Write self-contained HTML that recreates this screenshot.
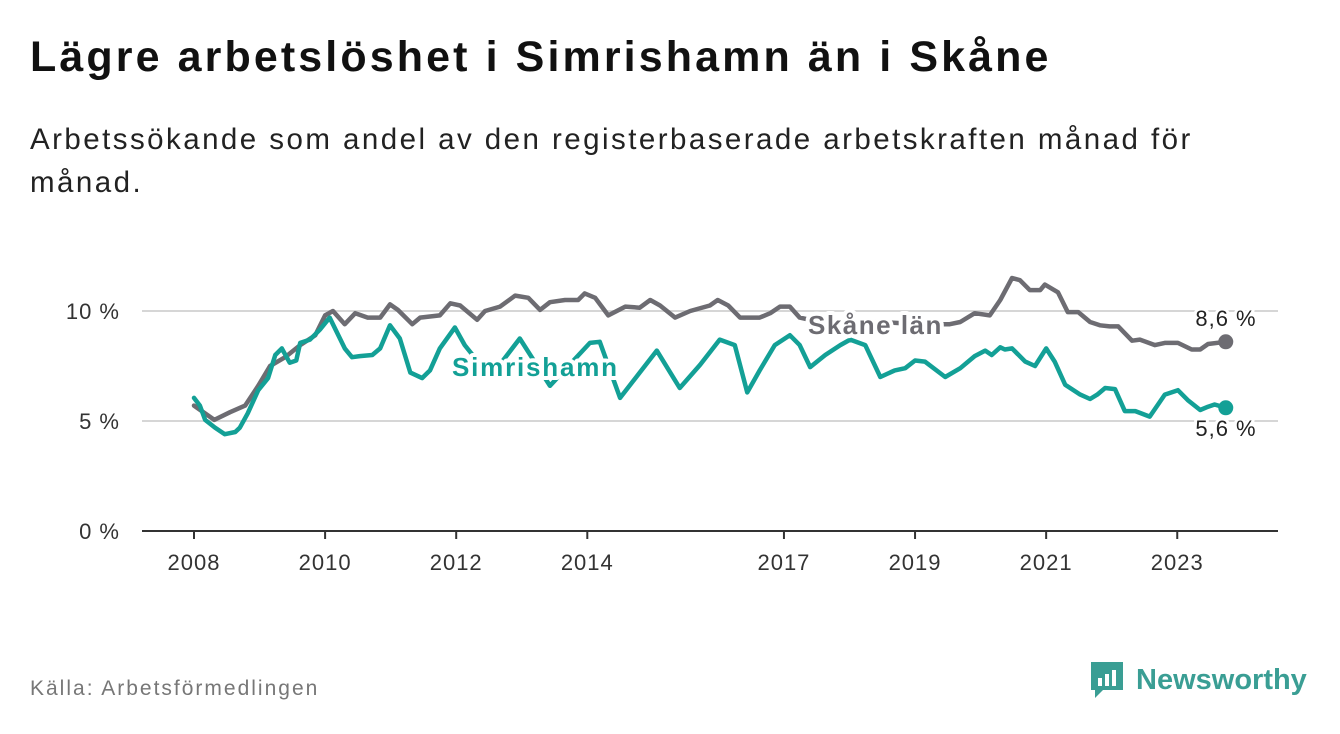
<!DOCTYPE html>
<html><head><meta charset="utf-8"><style>
body{margin:0;background:#fff;font-family:"Liberation Sans","DejaVu Sans",sans-serif;}
#wrap{position:relative;width:1340px;height:734px;overflow:hidden}
h1{position:absolute;left:30px;top:33px;margin:0;font-size:43px;font-weight:bold;color:#111;letter-spacing:3.1px}
.sub{position:absolute;left:30px;top:118px;width:1200px;font-size:29.5px;line-height:43px;color:#222;letter-spacing:2.45px}
.src{position:absolute;left:30px;top:677px;font-size:21px;color:#777;letter-spacing:2px}
</style></head><body>
<div id="wrap">
<h1>Lägre arbetslöshet i Simrishamn än i Skåne</h1>
<div class="sub">Arbetssökande som andel av den registerbaserade arbetskraften månad för månad.</div>
<svg id="chart" width="1340" height="734" style="position:absolute;left:0;top:0"></svg>
<div class="src">Källa: Arbetsförmedlingen</div>
<div style="position:absolute;left:1089px;top:660px;height:40px;display:flex;align-items:center">
<svg width="36" height="40"><path d="M2 2h32v28H14l-8 8v-8H2z" fill="#3a9e94"/><rect x="9" y="18" width="4" height="8" fill="#fff"/><rect x="16" y="14" width="4" height="12" fill="#fff"/><rect x="23" y="10" width="4" height="16" fill="#fff"/></svg>
<span style="font-size:29px;font-weight:bold;color:#3a9e94;margin-left:11px">Newsworthy</span></div>
</div>
<script>
const yTicks=[0,5,10];
const xTicks=[2008,2010,2012,2014,2017,2019,2021,2023];
const skaneDates=[2008.00,2008.31,2008.55,2008.78,2008.98,2009.16,2009.39,2009.62,2009.85,2010.00,2010.12,2010.30,2010.46,2010.65,2010.84,2010.99,2011.11,2011.33,2011.45,2011.75,2011.91,2012.06,2012.32,2012.44,2012.67,2012.90,2013.10,2013.28,2013.43,2013.66,2013.86,2013.96,2014.12,2014.32,2014.58,2014.80,2014.96,2015.11,2015.34,2015.57,2015.87,2015.99,2016.15,2016.33,2016.63,2016.79,2016.94,2017.09,2017.24,2017.70,2018.47,2019.08,2019.53,2019.69,2019.91,2020.14,2020.30,2020.48,2020.60,2020.75,2020.91,2020.98,2021.18,2021.33,2021.49,2021.67,2021.82,2021.97,2022.10,2022.31,2022.43,2022.66,2022.81,2023.01,2023.22,2023.35,2023.47,2023.74];
const skaneValues=[5.7,5.05,5.4,5.7,6.6,7.5,7.9,8.45,8.9,9.8,10.0,9.4,9.9,9.7,9.7,10.3,10.05,9.4,9.7,9.8,10.35,10.25,9.6,10.0,10.2,10.7,10.6,10.05,10.4,10.5,10.5,10.8,10.6,9.8,10.2,10.15,10.5,10.25,9.7,10.0,10.25,10.5,10.25,9.7,9.7,9.9,10.2,10.2,9.7,9.4,9.5,9.4,9.4,9.5,9.9,9.8,10.5,11.5,11.4,10.95,10.95,11.2,10.85,9.95,9.95,9.5,9.35,9.3,9.3,8.65,8.7,8.45,8.55,8.55,8.25,8.25,8.5,8.6];
const simDates=[2008.00,2008.09,2008.17,2008.32,2008.47,2008.63,2008.70,2008.82,2008.98,2009.13,2009.24,2009.34,2009.46,2009.56,2009.62,2009.77,2009.92,2010.07,2010.30,2010.41,2010.53,2010.72,2010.84,2010.99,2011.14,2011.30,2011.48,2011.60,2011.75,2011.98,2012.13,2012.52,2012.97,2013.43,2014.04,2014.19,2014.50,2015.06,2015.41,2015.72,2016.02,2016.25,2016.44,2016.63,2016.86,2017.09,2017.24,2017.40,2017.63,2017.86,2018.01,2018.24,2018.47,2018.69,2018.85,2019.00,2019.15,2019.46,2019.69,2019.91,2020.07,2020.17,2020.30,2020.37,2020.48,2020.68,2020.83,2021.00,2021.13,2021.29,2021.52,2021.67,2021.78,2021.90,2022.05,2022.20,2022.36,2022.58,2022.81,2023.01,2023.16,2023.35,2023.47,2023.57,2023.74];
const simValues=[6.05,5.7,5.05,4.7,4.4,4.5,4.7,5.35,6.4,6.95,8.0,8.3,7.65,7.75,8.55,8.7,9.15,9.7,8.3,7.9,7.95,8.0,8.3,9.35,8.75,7.2,6.95,7.3,8.3,9.25,8.45,7.0,8.75,6.6,8.55,8.6,6.05,8.2,6.5,7.55,8.7,8.45,6.3,7.3,8.45,8.9,8.45,7.45,8.0,8.45,8.7,8.45,7.0,7.3,7.4,7.75,7.7,7.0,7.4,7.95,8.2,8.0,8.35,8.25,8.3,7.7,7.5,8.3,7.7,6.65,6.2,6.0,6.2,6.5,6.45,5.45,5.45,5.2,6.2,6.4,5.95,5.5,5.65,5.75,5.6];

const NS="http://www.w3.org/2000/svg",svg=document.getElementById('chart');
const X=t=>194+(t-2008)*65.55, Y=v=>531-v*22;
function mk(tag,at,txt){const e=document.createElementNS(NS,tag);for(const k in at)e.setAttribute(k,at[k]);if(txt!=null)e.textContent=txt;svg.appendChild(e);return e;}
yTicks.forEach(v=>{
 const g=mk('line',{x1:142,x2:1278,y1:Y(v),y2:Y(v),stroke:v===0?'#333':'#d6d6d6','stroke-width':2});
 
 
 const t=mk('text',{x:120,y:Y(v)+8,'text-anchor':'end','font-size':22,fill:'#333','letter-spacing':1},v+' %');
 
 
});
xTicks.forEach(yr=>{
 const l=mk('line',{x1:X(yr),x2:X(yr),y1:531,y2:539,stroke:'#333','stroke-width':2});
 
 
 const t=mk('text',{x:X(yr),y:570,'text-anchor':'middle','font-size':22,fill:'#333','letter-spacing':1},String(yr));
 
 
});
function line(d,v,c,name){
 const p=mk('polyline',{points:d.map((t,i)=>X(t)+','+Y(v[i])).join(' '),fill:'none',stroke:c,'stroke-width':4.5,'stroke-linejoin':'round','stroke-linecap':'round'});
 
 
 const e=mk('circle',{cx:X(d[d.length-1]),cy:Y(v[v.length-1]),r:7.5,fill:c});
 
 
}
line(skaneDates,skaneValues,'#6d6c72','skane-line');
line(simDates,simValues,'#13a096','simrishamn-line');
function lab(x,y,txt,c,name,bold,size,anchor,ls){
 const t=mk('text',{x:x,y:y,fill:c,'font-size':size,'font-weight':bold?'bold':'normal','text-anchor':anchor||'start','letter-spacing':ls||0,stroke:'#fff','stroke-width':bold?8:6,'paint-order':'stroke','stroke-linejoin':'round'},txt);
 
 
}
lab(808,334,'Skåne län','#6d6c72','skane-label',true,26,'start',1.5);
lab(452,376,'Simrishamn','#13a096','simrishamn-label',true,26,'start',1.8);
lab(1226,326,'8,6 %','#222','skane-end-value',false,22,'middle',1);
lab(1226,436,'5,6 %','#222','simrishamn-end-value',false,22,'middle',1);
</script>
</body></html>
